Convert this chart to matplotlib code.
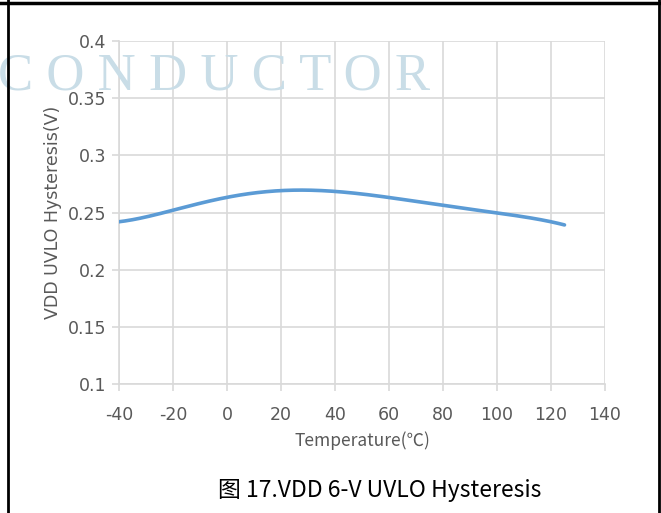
import numpy as np
import matplotlib
matplotlib.use("Agg")
import matplotlib.pyplot as plt
from matplotlib.lines import Line2D

# data
temps = [-40, -20, 0, 20, 25, 40, 60, 80, 100, 120, 125]
hyst = [0.242, 0.2516, 0.2638, 0.269, 0.2697, 0.2679, 0.2633, 0.2566, 0.2493, 0.242, 0.2391]

xticks = [-40, -20, 0, 20, 40, 60, 80, 100, 120, 140]
yticks = [0.1, 0.15, 0.2, 0.25, 0.3, 0.35, 0.4]
ytick_labels = ['0.1', '0.15', '0.2', '0.25', '0.3', '0.35', '0.4']

plt.rcParams['font.family'] = ['Liberation Sans Narrow', 'DejaVu Sans']
plt.rcParams['axes.unicode_minus'] = False

fig = plt.figure(figsize=(6.61, 5.13), dpi=100)
ax = fig.add_axes([119/661, 1-384/513, (605-119)/661, (384-41)/513])

# smooth line through the points (Excel style)
xs = np.linspace(-40, 125, 300)
cs = np.polyfit(temps, hyst, 5)
ax.plot(xs, np.polyval(cs, xs), color='#5b9bd5', lw=2.6, solid_capstyle='round', zorder=3)

ax.set_xlim(-40, 140)
ax.set_ylim(0.1, 0.4)
ax.set_xticks(xticks)
ax.set_yticks(yticks)
ax.set_yticklabels(ytick_labels)
ax.grid(True, color='#d9d9d9', lw=1.2)
for s in ['top', 'right']:
    ax.spines[s].set_visible(False)
ax.spines['left'].set_color('#d9d9d9')
ax.spines['bottom'].set_color('#d9d9d9')
ax.spines['left'].set_linewidth(1.2)
ax.spines['bottom'].set_linewidth(1.2)
ax.tick_params(colors='#d9d9d9', labelcolor='#595959', labelsize=12.5, length=5, width=1.2)
ax.tick_params(axis='x', pad=11)
ax.tick_params(axis='y', pad=4)

ax.set_xlabel('Temperature(\u2103)', fontsize=12.5, color='#595959', labelpad=5,
              family=['Liberation Sans Narrow', 'Noto Sans CJK SC', 'DejaVu Sans'])
ax.set_ylabel('VDD UVLO Hysteresis(V)', fontsize=12.5, color='#595959', labelpad=4)

# watermark
fig.text(-0.003, 1-77/513, 'C O N D U C T O R', fontsize=38, color='#c9dde7',
         family='Liberation Serif', va='center', ha='left', zorder=0)

fig.text(380/661, 1-490/513, '图 17.VDD 6-V UVLO Hysteresis', fontsize=16.5, color='black',
         ha='center', va='center', family=['Noto Sans CJK SC', 'DejaVu Sans'])

# table cell border
fig.add_artist(Line2D([0, 1], [1-2.5/513, 1-2.5/513], color='black', lw=2.5, transform=fig.transFigure))
fig.add_artist(Line2D([7.5/661, 7.5/661], [0, 1], color='black', lw=2, transform=fig.transFigure))
fig.add_artist(Line2D([659/661, 659/661], [0, 1], color='black', lw=2, transform=fig.transFigure))

fig.savefig('out.png', dpi=100)
